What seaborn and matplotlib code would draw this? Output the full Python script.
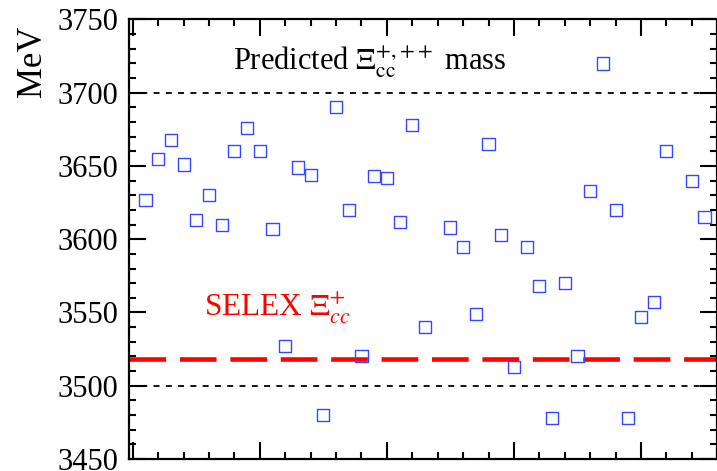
import numpy as np
import pandas as pd
import matplotlib
matplotlib.use("Agg")
import matplotlib.pyplot as plt
import seaborn as sns
from matplotlib.ticker import MultipleLocator, NullFormatter

# predicted masses (MeV), one per model index; 24 and 43 have no entry
model_idx = [1, 2, 3, 4, 5, 6, 7, 8, 9, 10, 11, 12, 13, 14, 15, 16, 17, 18, 19, 20,
             21, 22, 23, 25, 26, 27, 28, 29, 30, 31, 32, 33, 34, 35, 36, 37, 38, 39,
             40, 41, 42, 44, 45]
mass = [3627, 3655, 3668, 3651, 3613, 3630, 3610, 3660, 3676, 3660, 3607, 3527,
        3649, 3644, 3480, 3690, 3620, 3520, 3643, 3642, 3612, 3678, 3540, 3608,
        3595, 3549, 3665, 3603, 3513, 3595, 3568, 3478, 3570, 3520, 3633, 3720,
        3620, 3478, 3547, 3557, 3660, 3640, 3615]
selex_mass = 3518
band = [3500, 3700]

df = pd.DataFrame({"model": model_idx, "mass": mass})

sns.set_style("ticks")
plt.rcParams["font.family"] = ["Liberation Serif", "DejaVu Serif"]
plt.rcParams["mathtext.fontset"] = "stix"
plt.rcParams["text.color"] = "black"
plt.rcParams["axes.labelcolor"] = "black"

fig = plt.figure(figsize=(7.17, 4.71), dpi=100)
ax = fig.add_axes([0.1799, 0.0255, 0.8204, 0.9331])

for b in band:
    ax.axhline(b, color="black", lw=1.3, dashes=(3.3, 3.5), zorder=1)
ax.axhline(selex_mass, color="red", lw=3.3, dashes=(8, 3), zorder=2)

sns.scatterplot(data=df, x="model", y="mass", marker="s", s=76,
                facecolors="none", edgecolor="#3348ff", linewidth=1.0,
                ax=ax, zorder=3, legend=False)

ax.set_xlim(-0.3, 46)
ax.set_ylim(3450, 3750)
ax.xaxis.set_major_locator(MultipleLocator(10))
ax.xaxis.set_minor_locator(MultipleLocator(2))
ax.yaxis.set_major_locator(MultipleLocator(50))
ax.yaxis.set_minor_locator(MultipleLocator(10))
ax.xaxis.set_major_formatter(NullFormatter())
ax.tick_params(which="both", direction="in", top=True, right=True, width=1.5,
               colors="black", labelcolor="black")
ax.tick_params(which="major", length=12, labelsize=22, pad=8)
ax.tick_params(which="minor", length=5)
ax.set_xlabel("")
ax.set_ylabel("")
for sp in ax.spines.values():
    sp.set_linewidth(1.6)
    sp.set_color("black")

fig.text(32 / 717, 1 - 61 / 471, "MeV", rotation=90, ha="center", va="center",
         fontsize=25, color="black")
fig.text(370 / 717, 1 - 62 / 471, r"Predicted $\Xi_{\rm cc}^{+,\!+\!+}$ mass",
         ha="center", va="center", fontsize=22, color="black")
fig.text(204 / 717, 1 - 308 / 471, r"SELEX $\Xi_{cc}^{+}$", color="red",
         ha="left", va="center", fontsize=22.5)

fig.savefig("out.png", dpi=100)
